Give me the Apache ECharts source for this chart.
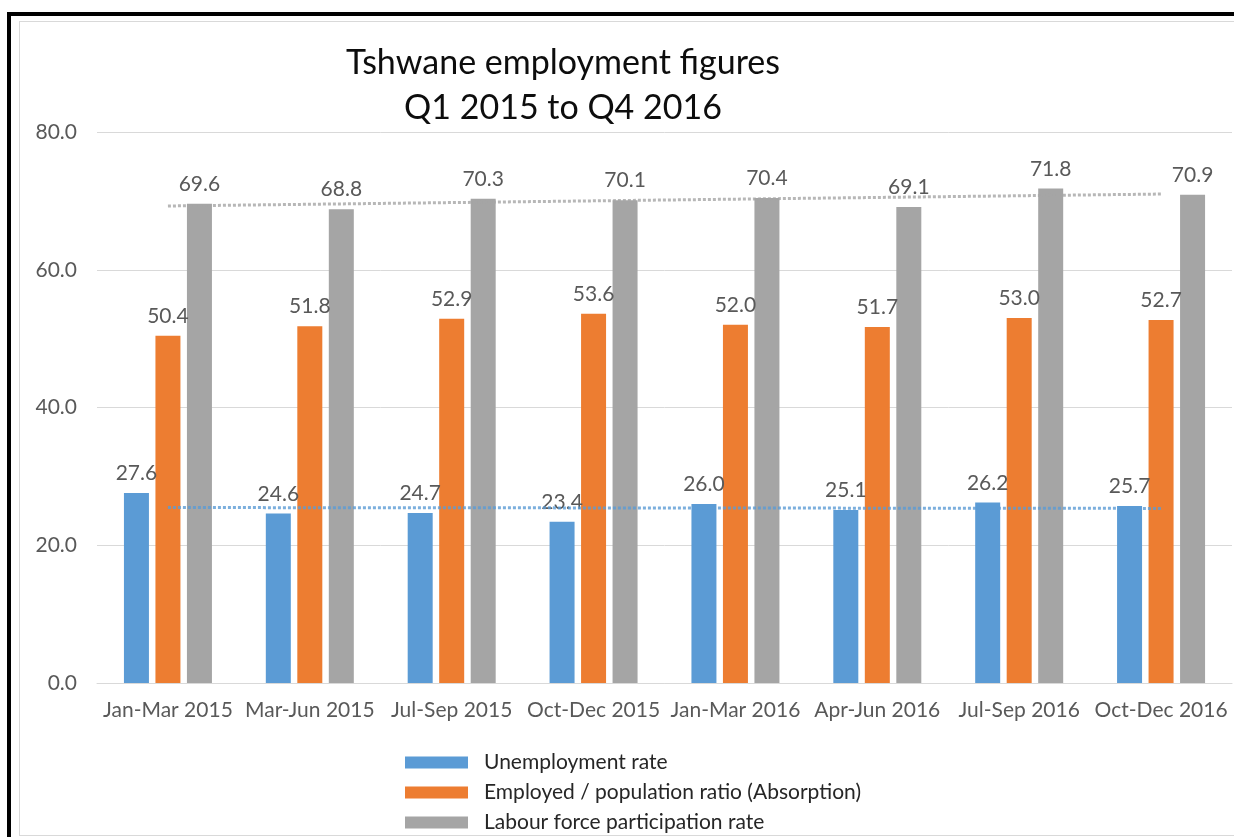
<!DOCTYPE html>
<html>
<head>
<meta charset="utf-8">
<title>Tshwane employment figures</title>
<script src="https://cdn.jsdelivr.net/npm/echarts@6/dist/echarts.min.js"></script>
<style>
  html, body { margin: 0; padding: 0; background: #ffffff; overflow: hidden; width: 1234px; height: 837px; }
  #frame {
    position: absolute; left: 7px; top: 12px; width: 1227px; height: 825px;
    border-top: 4px solid #000000; border-left: 4px solid #000000; box-sizing: border-box;
  }
  #box {
    position: absolute; left: 19px; top: 21px; width: 1215px; height: 815px;
    border-top: 1px solid #d9d9d9; border-left: 1px solid #d9d9d9; border-bottom: 1px solid #d9d9d9;
    box-sizing: border-box; background: #ffffff;
  }
  #chart { position: absolute; left: 0; top: 0; width: 1234px; height: 837px; }
</style>
</head>
<body>
<div id="frame"></div>
<div id="box"></div>
<div id="chart"></div>
<script>
// Quarterly periods
const quarters = ['Jan-Mar 2015', 'Mar-Jun 2015', 'Jul-Sep 2015', 'Oct-Dec 2015',
                  'Jan-Mar 2016', 'Apr-Jun 2016', 'Jul-Sep 2016', 'Oct-Dec 2016'];

// Rates in percent
const unemploymentRate = [27.6, 24.6, 24.7, 23.4, 26.0, 25.1, 26.2, 25.7];
const absorptionRatio  = [50.4, 51.8, 52.9, 53.6, 52.0, 51.7, 53.0, 52.7];
const participation    = [69.6, 68.8, 70.3, 70.1, 70.4, 69.1, 71.8, 70.9];

// Value-axis ticks
const yTicks = [0, 20, 40, 60, 80];

const seriesNames = ['Unemployment rate',
                     'Employed / population ratio (Absorption)',
                     'Labour force participation rate'];
const colors = ['#5b9bd5', '#ed7d31', '#a5a5a5'];

// Least-squares linear trend evaluated at each period
function linearTrend(values) {
  const n = values.length;
  const xs = values.map((_, i) => i + 1);
  const mx = xs.reduce((a, b) => a + b, 0) / n;
  const my = values.reduce((a, b) => a + b, 0) / n;
  let sxy = 0, sxx = 0;
  xs.forEach((x, i) => { sxy += (x - mx) * (values[i] - my); sxx += (x - mx) * (x - mx); });
  const slope = sxy / sxx;
  return xs.map(x => my + slope * (x - mx));
}

const FONT = 'Lato, "Liberation Sans", sans-serif';

function barSeries(name, data, color) {
  return {
    name: name,
    type: 'bar',
    data: data,
    barWidth: 25,
    barGap: '26%',
    itemStyle: { color: color },
    label: {
      show: true,
      position: 'top',
      distance: 9,
      color: '#595959',
      fontFamily: FONT,
      fontSize: 21,
      formatter: p => Number(p.value).toFixed(1)
    },
    z: 2
  };
}

function trendSeries(values, color) {
  return {
    type: 'line',
    data: linearTrend(values),
    symbol: 'none',
    silent: true,
    lineStyle: { color: color, width: 3, type: [3, 2], opacity: 0.8 },
    z: 5
  };
}

const chart = echarts.init(document.getElementById('chart'));
chart.setOption({
  animation: false,
  title: {
    text: 'Tshwane employment figures\nQ1 2015 to Q4 2016',
    left: 558,
    top: 36,
    textAlign: 'center',
    textStyle: {
      fontFamily: FONT,
      fontSize: 34,
      fontWeight: 'normal',
      color: '#0d0d0d',
      lineHeight: 45
    }
  },
  grid: { left: 97, right: 2, top: 132, bottom: 154, containLabel: false },
  xAxis: {
    type: 'category',
    data: quarters,
    axisLine: { lineStyle: { color: '#d9d9d9', width: 1 } },
    axisTick: { show: false },
    axisLabel: { color: '#595959', fontFamily: FONT, fontSize: 21, margin: 17, interval: 0 }
  },
  yAxis: {
    type: 'value',
    min: yTicks[0],
    max: yTicks[yTicks.length - 1],
    interval: yTicks[1] - yTicks[0],
    axisLine: { show: false },
    axisTick: { show: false },
    splitLine: { lineStyle: { color: '#d9d9d9', width: 1 } },
    axisLabel: {
      color: '#595959', fontFamily: FONT, fontSize: 21, margin: 20,
      formatter: v => v.toFixed(1)
    }
  },
  legend: {
    data: seriesNames,
    orient: 'vertical',
    left: 405,
    top: 752,
    padding: 0,
    itemWidth: 63,
    itemHeight: 12,
    itemGap: 9,
    icon: 'rect',
    textStyle: { color: '#262626', fontFamily: FONT, fontSize: 21, padding: [0, 0, 0, 11] }
  },
  series: [
    barSeries(seriesNames[0], unemploymentRate, colors[0]),
    barSeries(seriesNames[1], absorptionRatio, colors[1]),
    barSeries(seriesNames[2], participation, colors[2]),
    trendSeries(unemploymentRate, colors[0]),
    trendSeries(participation, colors[2])
  ]
});
</script>
</body>
</html>
